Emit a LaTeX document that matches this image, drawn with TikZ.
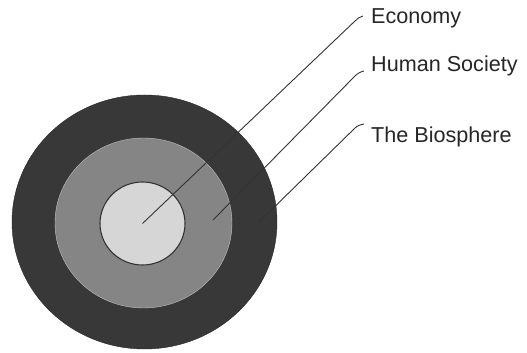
\documentclass[tikz,border=0pt]{standalone}
\usepackage{fontspec}
\setmainfont{Liberation Sans}
\usetikzlibrary{shapes.geometric}

\begin{document}
\begin{tikzpicture}[
  x=1pt, y=1pt,
  ring/.style={draw, ellipse, inner sep=0pt},
  label/.style={anchor=base west, inner sep=0pt, font=\fontsize{21.6}{26}\selectfont, text=black!85},
  leader/.style={draw=black!80, line width=0.9pt}
]
\useasboundingbox (0,0) rectangle (527,353);

% Rings
\node[ring, draw=black!85, fill=black!78, minimum width=265pt, minimum height=254pt] (biosphere) at (144.5,131) {};
\node[ring, draw=black!25, fill=black!48, minimum width=177pt, minimum height=170pt] (society) at (143.5,130) {};
\node[ring, draw=black!80, line width=1.1pt, fill=black!16, minimum width=85pt, minimum height=83pt] (economy) at (142.5,129.5) {};

% Labels
\node[label] (econ-lbl) at (371,329) {Economy};
\node[label] (soc-lbl) at (371,281) {Human Society};
\node[label] (bio-lbl) at (371,210) {The Biosphere};

% Leader points
\coordinate (soc-pt) at (213,133);
\coordinate (bio-pt) at (258,130);

% Lines
\draw[leader] (economy.center) -- ([shift={(-16pt,3pt)}]econ-lbl.base west)
  to[out=45, in=195] ([shift={(-8pt,8pt)}]econ-lbl.base west);
\draw[leader] (soc-pt) -- ([shift={(-16pt,-4pt)}]soc-lbl.base west)
  to[out=45, in=195] ([shift={(-7pt,1pt)}]soc-lbl.base west);
\draw[leader] (bio-pt) -- ([shift={(-16pt,15pt)}]bio-lbl.base west)
  to[out=45, in=195] ([shift={(-7pt,19pt)}]bio-lbl.base west);

\end{tikzpicture}
\end{document}
